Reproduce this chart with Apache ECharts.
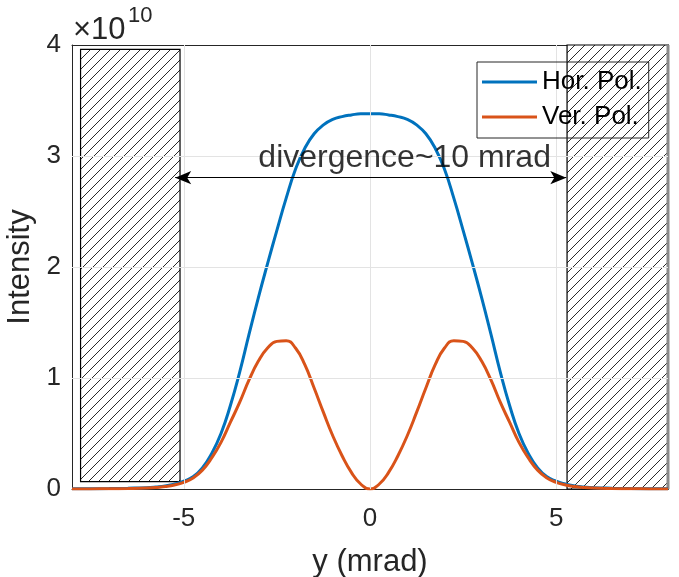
<!DOCTYPE html>
<html>
<head>
<meta charset="utf-8">
<script src="https://cdn.jsdelivr.net/npm/echarts@6/dist/echarts.min.js"></script>
<style>html,body{margin:0;padding:0;background:#fff;}#c{width:679px;height:577px;}</style>
</head>
<body>
<div id="c"></div>
<script>
// ---- data (intensity in units of 1e10) ----
const xs = [-8, -7.5, -7, -6.5, -6, -5.75, -5.5, -5.25, -5, -4.75, -4.5, -4.25, -4, -3.75, -3.5, -3.25, -3, -2.75, -2.5, -2.25, -2, -1.75, -1.5, -1.25, -1, -0.75, -0.5, -0.25, 0,
            0.25, 0.5, 0.75, 1, 1.25, 1.5, 1.75, 2, 2.25, 2.5, 2.75, 3, 3.25, 3.5, 3.75, 4, 4.25, 4.5, 4.75, 5, 5.25, 5.5, 5.75, 6, 6.5, 7, 7.5, 8];
const horPol = [0.002, 0.003, 0.004, 0.007, 0.012, 0.018, 0.027, 0.045, 0.07, 0.11, 0.19, 0.32, 0.50, 0.75, 1.05, 1.39, 1.72, 2.03, 2.33, 2.62, 2.88, 3.07, 3.20, 3.28, 3.33, 3.355, 3.37, 3.38, 3.38,
                3.38, 3.37, 3.355, 3.33, 3.28, 3.20, 3.07, 2.88, 2.62, 2.33, 2.03, 1.72, 1.39, 1.05, 0.75, 0.50, 0.32, 0.19, 0.11, 0.07, 0.045, 0.027, 0.018, 0.012, 0.007, 0.004, 0.003, 0.002];
const verPol = [0.001, 0.001, 0.002, 0.004, 0.008, 0.013, 0.022, 0.036, 0.06, 0.10, 0.17, 0.28, 0.42, 0.60, 0.78, 0.98, 1.15, 1.27, 1.33, 1.335, 1.27, 1.12, 0.91, 0.69, 0.48, 0.30, 0.15, 0.045, 0,
                0.045, 0.15, 0.30, 0.48, 0.69, 0.91, 1.12, 1.27, 1.335, 1.33, 1.27, 1.15, 0.98, 0.78, 0.60, 0.42, 0.28, 0.17, 0.10, 0.06, 0.036, 0.022, 0.013, 0.008, 0.004, 0.002, 0.001, 0.001];
const seriesNames = ['Hor. Pol.', 'Ver. Pol.'];
const xTicks = [-5, 0, 5];
const yTicks = [0, 1, 2, 3, 4];
// hatched regions: [x0, y0, x1, y1]
const hatchBoxes = [[-7.77, 0.066, -5.1, 3.96], [5.29, 0, 8, 4]];
// double arrow: [xStart, xEnd, y]
const arrowSpan = [-5.23, 5.27, 2.805];
const annotationText = 'divergence~10 mrad';
const annotationPos = [0.93, 2.98];

// ---- hatch pattern ----
const pc = document.createElement('canvas');
pc.width = 10; pc.height = 10;
const g = pc.getContext('2d');
g.fillStyle = '#fff'; g.fillRect(0, 0, 10, 10);
g.strokeStyle = '#111'; g.lineWidth = 0.9;
g.beginPath();
g.moveTo(-5, 5); g.lineTo(5, -5);
g.moveTo(0, 10); g.lineTo(10, 0);
g.moveTo(5, 15); g.lineTo(15, 5);
g.stroke();

const chart = echarts.init(document.getElementById('c'), null, {renderer: 'canvas'});
const FONT = 'Liberation Sans, Arial, sans-serif';
const axisColor = '#262626';

const gridLineData = xTicks.map(v => ({xAxis: v})).concat(yTicks.filter(v => v > 0 && v < 4).map(v => ({yAxis: v})));

const option = {
  animation: false,
  backgroundColor: '#fff',
  textStyle: {fontFamily: FONT},
  grid: {left: 72, right: 11, top: 45, bottom: 88, containLabel: false, outerBoundsMode: 'none'},
  xAxis: [{
    type: 'value', min: -8, max: 8, position: 'bottom',
    name: 'y (mrad)', nameLocation: 'middle', nameGap: 58,
    nameTextStyle: {fontSize: 31, color: axisColor, fontFamily: FONT},
    axisLine: {show: true, onZero: false, lineStyle: {color: axisColor, width: 1}},
    axisTick: {show: true, inside: true, length: 7, customValues: xTicks, lineStyle: {color: axisColor}},
    axisLabel: {show: true, customValues: xTicks, fontSize: 26, color: axisColor, margin: 17, fontFamily: FONT},
    splitLine: {show: false}
  }, {
    type: 'value', min: -8, max: 8, position: 'top',
    axisLine: {show: true, onZero: false, lineStyle: {color: axisColor, width: 1}},
    axisTick: {show: true, inside: true, length: 7, customValues: xTicks, lineStyle: {color: axisColor}},
    axisLabel: {show: false},
    splitLine: {show: false}
  }],
  yAxis: [{
    type: 'value', min: 0, max: 4, interval: 1, position: 'left',
    name: 'Intensity', nameLocation: 'middle', nameGap: 35,
    nameTextStyle: {fontSize: 31, color: axisColor, fontFamily: FONT},
    axisLine: {show: true, onZero: false, lineStyle: {color: axisColor, width: 1}},
    axisTick: {show: true, inside: true, length: 7, lineStyle: {color: axisColor}},
    axisLabel: {show: true, fontSize: 26, color: axisColor, margin: 11, fontFamily: FONT},
    splitLine: {show: false}
  }, {
    type: 'value', min: 0, max: 4, interval: 1, position: 'right',
    axisLine: {show: true, onZero: false, lineStyle: {color: axisColor, width: 1}},
    axisTick: {show: true, inside: true, length: 7, lineStyle: {color: axisColor}},
    axisLabel: {show: false},
    splitLine: {show: false}
  }],
  legend: {
    orient: 'vertical', left: 477, top: 62,
    padding: [7, 7, 8, 5], itemGap: 9,
    itemWidth: 55, itemHeight: 3,
    borderColor: axisColor, borderWidth: 1, backgroundColor: 'transparent',
    textStyle: {fontSize: 26, color: '#000', fontFamily: FONT},
    data: seriesNames.map(n => ({name: n, icon: 'rect'})),
    z: 10
  },
  series: [
    {
      name: 'grid', type: 'line', data: [], z: 1, silent: true,
      markLine: {
        silent: true, symbol: 'none', animation: false,
        label: {show: false},
        lineStyle: {color: '#e3e3e3', width: 1, type: 'solid'},
        data: gridLineData
      }
    },
    {
      name: 'hatch', type: 'custom', z: 2, silent: true, clip: false,
      data: hatchBoxes,
      encode: {x: [0, 2], y: [1, 3]},
      renderItem: function (params, api) {
        const p0 = api.coord([api.value(0), api.value(3)]);
        const p1 = api.coord([api.value(2), api.value(1)]);
        const children = [{
          type: 'rect',
          shape: {x: p0[0], y: p0[1], width: p1[0] - p0[0], height: p1[1] - p0[1]},
          style: {fill: {image: pc, repeat: 'repeat'}, stroke: '#000', lineWidth: 1.2}
        }];
        if (params.dataIndex === 1) {
          children.push({
            type: 'line',
            shape: {x1: p1[0], y1: p0[1], x2: p1[0], y2: p1[1]},
            style: {stroke: '#8a8a8a', lineWidth: 3}
          });
        }
        return {type: 'group', children: children};
      }
    },
    {
      name: seriesNames[0], type: 'line', z: 3, showSymbol: false, smooth: true,
      data: xs.map((x, i) => [x, horPol[i]]),
      lineStyle: {color: '#0072BD', width: 3}, itemStyle: {color: '#0072BD'}
    },
    {
      name: seriesNames[1], type: 'line', z: 4, showSymbol: false, smooth: true,
      data: xs.map((x, i) => [x, verPol[i]]),
      lineStyle: {color: '#D95319', width: 3}, itemStyle: {color: '#D95319'}
    },
    {
      name: 'arrow', type: 'line', data: [], z: 5, silent: true,
      markLine: {
        silent: true, animation: false,
        symbol: ['arrow', 'arrow'], symbolSize: [10, 16],
        label: {show: false},
        lineStyle: {color: '#000', width: 1, type: 'solid'},
        data: [[{coord: [arrowSpan[0], arrowSpan[2]]}, {coord: [arrowSpan[1], arrowSpan[2]]}]]
      }
    },
    {
      name: 'annotation', type: 'scatter', z: 6, silent: true, symbolSize: 0,
      data: [annotationPos],
      label: {show: true, position: 'inside', formatter: annotationText, fontSize: 32, color: '#000', fontFamily: FONT}
    }
  ],
  graphic: [
    {type: 'text', left: 73, top: 15, style: {text: '×10', font: '31px ' + FONT, fill: axisColor}},
    {type: 'text', left: 128, top: 5, style: {text: '10', font: '22px ' + FONT, fill: axisColor}}
  ]
};
chart.setOption(option);
</script>
</body>
</html>
